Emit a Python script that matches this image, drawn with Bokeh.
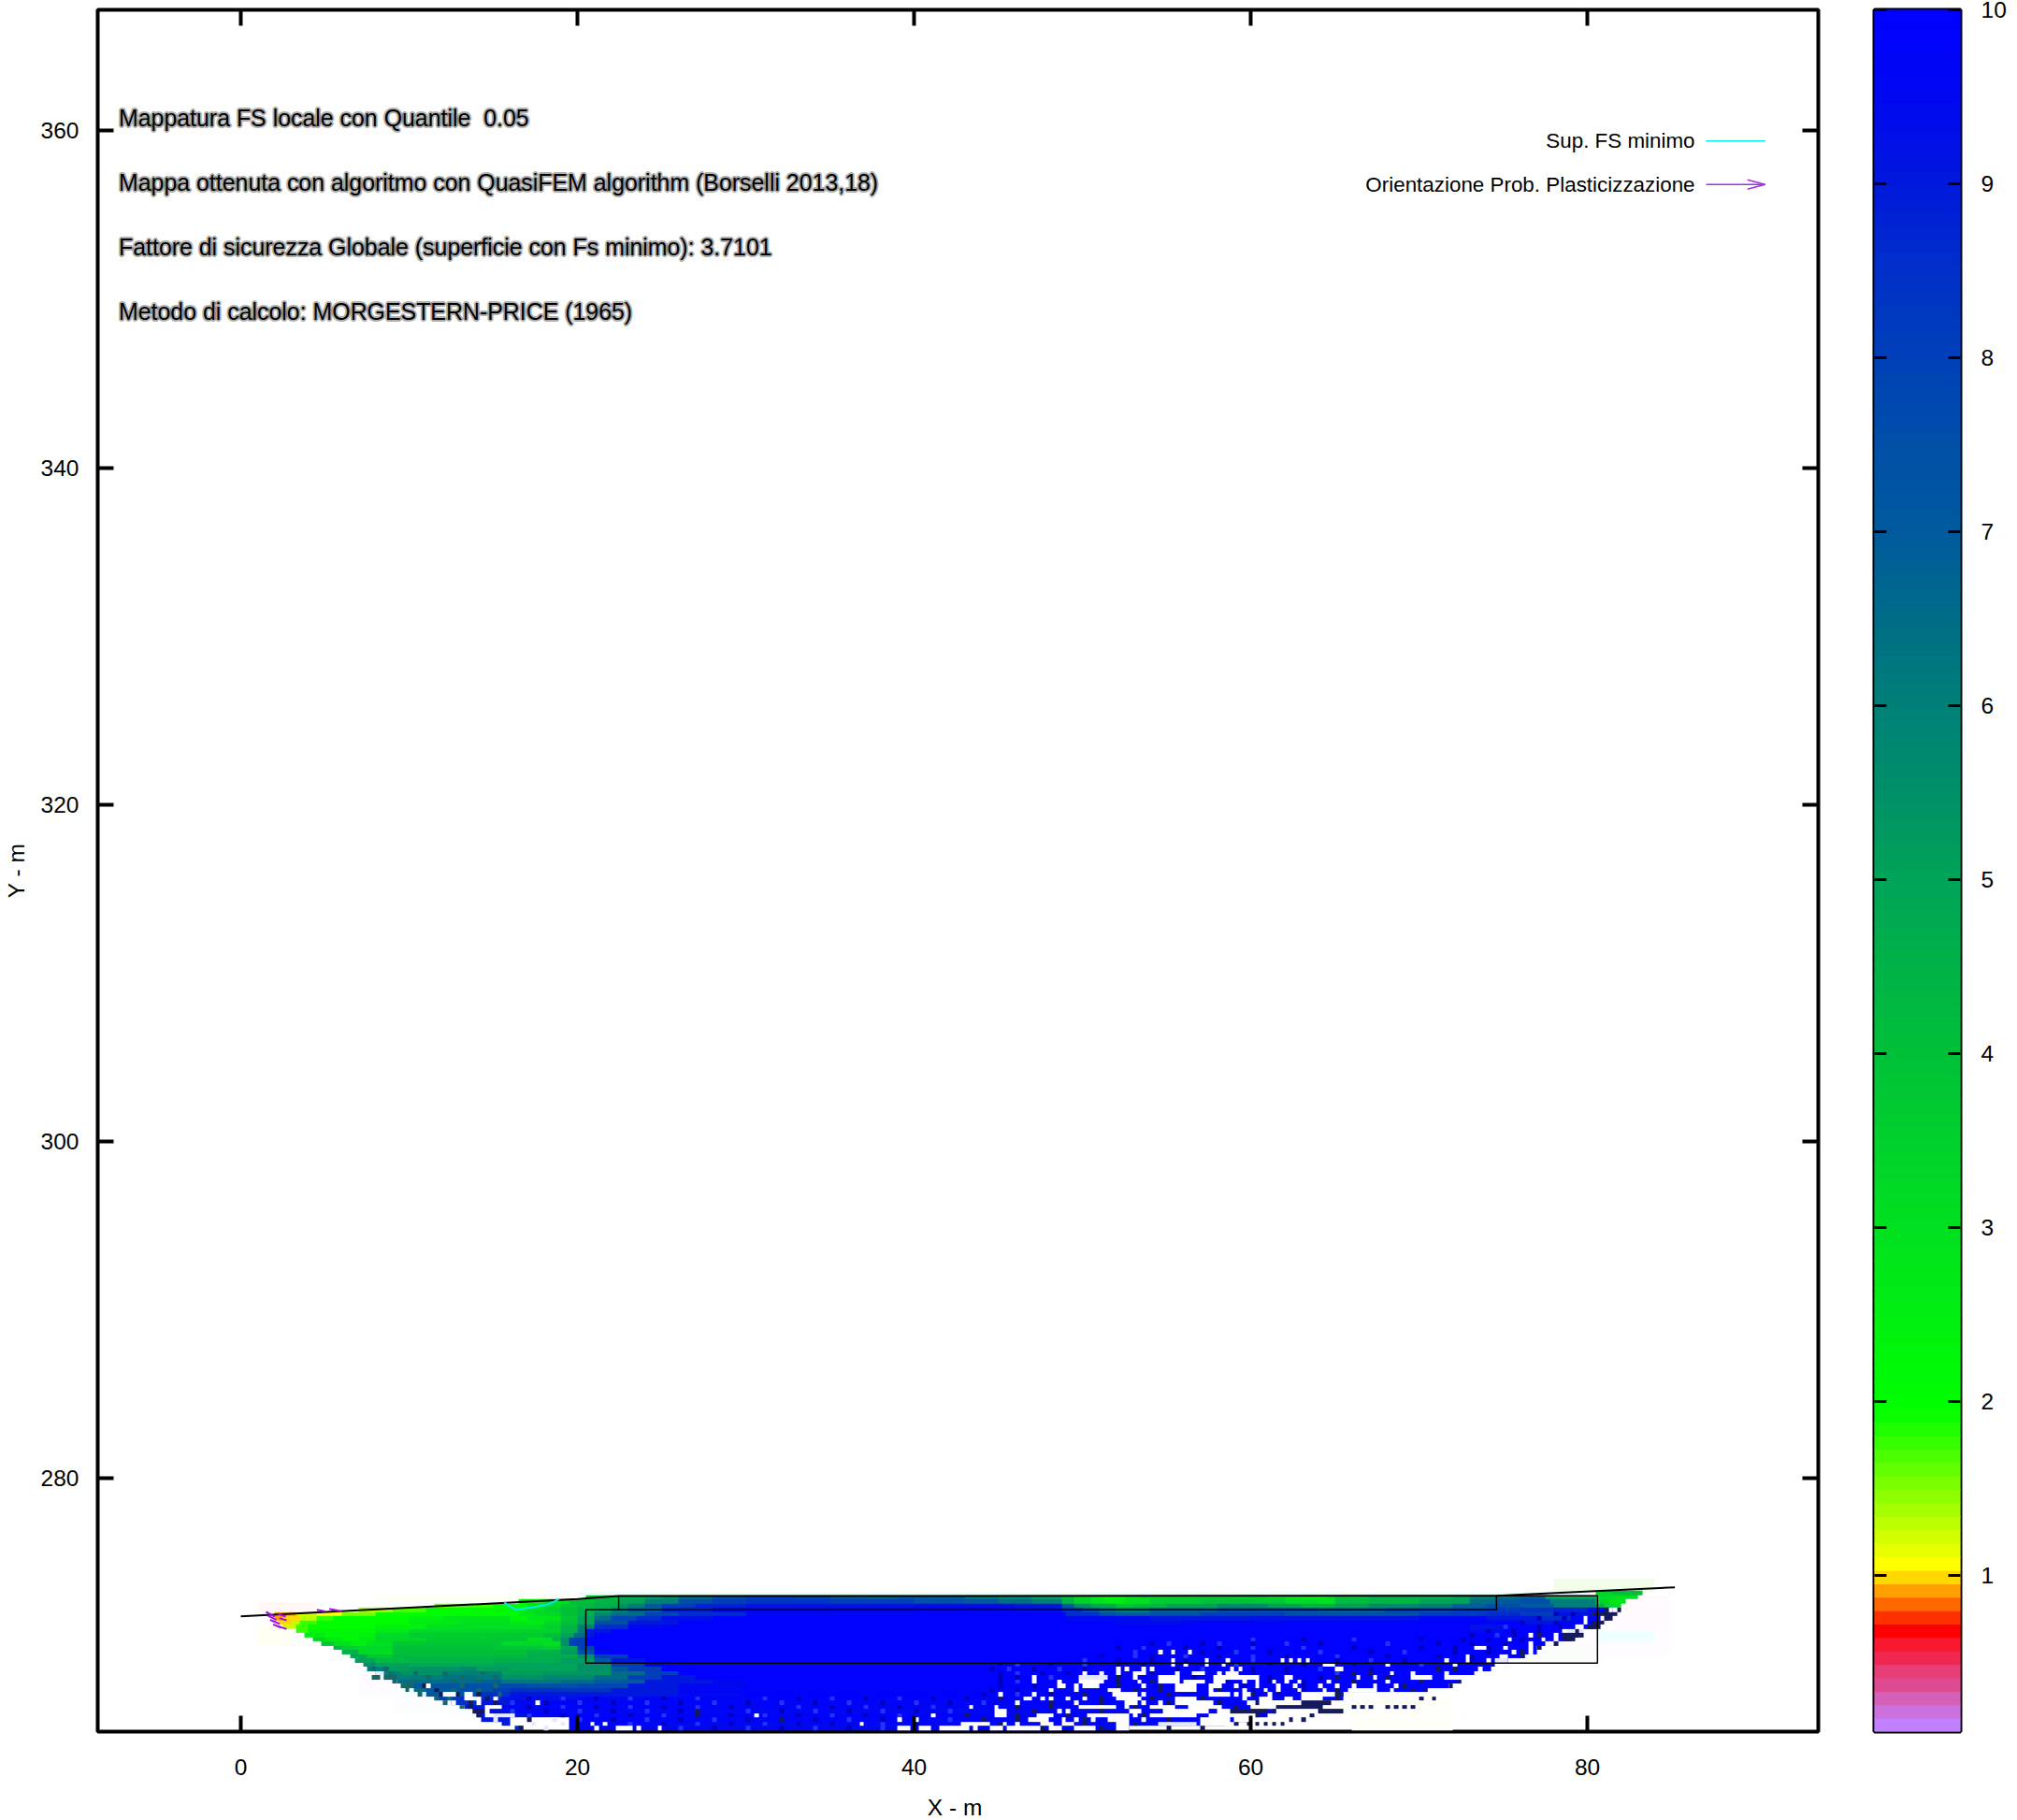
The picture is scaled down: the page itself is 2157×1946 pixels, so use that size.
import numpy as np
from bokeh.core.properties import value
from bokeh.embed import file_html
from bokeh.layouts import row
from bokeh.models import (CustomJSTickFormatter, FixedTicker, LinearAxis, LinearColorMapper, Range1d)
from bokeh.plotting import figure
from bokeh.resources import INLINE

FONT = "Liberation Sans"
X_TICKS = [0, 20, 40, 60, 80]
Y_TICKS = [280, 300, 320, 340, 360]
CB_TICKS = [1, 2, 3, 4, 5, 6, 7, 8, 9, 10]

NOTES = ["Mappatura FS locale con Quantile \u00a00.05",
         "Mappa ottenuta con algoritmo con QuasiFEM algorithm (Borselli 2013,18)",
         "Fattore di sicurezza Globale (superficie con Fs minimo): 3.7101",
         "Metodo di calcolo: MORGESTERN-PRICE (1965)"]
NOTES_Y = [360.76, 356.93, 353.1, 349.27]

# palette
STOP_V = [0.139, 0.216, 0.293, 0.371, 0.448, 0.525, 0.603, 0.68, 0.757, 0.835, 0.912, 0.989,
          1.066, 1.95, 3, 4, 5, 5.5, 6, 6.5, 7, 7.5, 8, 8.5, 9, 9.5, 10]
STOP_C = ["c080ff", "cc70dd", "d560b8", "de4a92", "e83e78", "f02850", "f81830", "ff0000", "ff3000",
          "ff6800", "ffa000", "ffd800", "ffff00", "00ff00", "00e020", "00c038", "00a458", "009068",
          "008078", "006c88", "005a9c", "0050a8", "0040b8", "0030c8", "0018dc", "0008f0", "0000ff"]

# FS read along rows of the grid: "x:FS" steps, n = no value
ROW_Y = [273.125, 272.875, 272.625, 272.375, 272.125, 271.875, 271.625, 271.375, 271.125, 270.875,
         270.625, 270.375, 270.125, 269.875, 269.625, 269.375, 269.125, 268.875, 268.625, 268.375,
         268.125, 267.875, 267.625, 267.375, 267.125, 266.875, 266.625, 266.375, 266.125, 265.875,
         265.625, 265.375, 265.125]
ROW_FS = [
 "80.5:3.4 81.5:4 83.2:n",
 "20.4:3.8 21:4 22.4:4.5 24:5 25:5.5 26:6.5 28:7.5 30:8 33:7.8 35:7 37:6.8 39:7.2 41:7 43:6.2 45:5.6 47:5 48.7:4 49.5:3.2 50.5:2.5 51.2:2 52.5:2.6 53.5:3.2 55:3.4 57:3.6 59:3.4 61:3 62:2.7 63:2.4 64.5:3 65:3.8 67:4.2 70:4.4 72:5 73:5.8 74.6:6.5 76:7 77.5:5 78:4.8 80.5:3.2 81.5:3 82.9:n",
 "16.5:2.5 18:3 19.5:4 21:4.4 22.4:5 24:6 26:7.5 28:8 30:8.3 35:8 40:7.5 43:7.2 45:6.5 47:6 48.7:4.5 49.5:3.5 50.5:3 51.2:2.6 52.5:3 54:3.6 57:4 60:3.8 62:3.2 64:3 65:4.2 67:4.4 70:5 73:6.5 74.6:7 76:7.5 77.8:6 80.5:3.4 81.2:2.8 82.3:n",
 "11.6:1.6 13:1.8 15:2 17:2.8 18:3.2 19:3.8 20:4.2 21:4.6 22.4:5.5 23:6 24:7 25:8 27:8.8 30:9.2 40:9.4 46:9 48.7:7 49.5:5.5 50.5:4.8 52:3.8 53:4.2 55:5 58:5.6 61:5 63:4.4 65:5 67:5.6 70:6 72:6.8 74:7.5 76:7 78:6 80.5:4.5 81:3.2 81.9:n",
 "7:1.4 9:1.7 11:2 13:2.1 15:2.2 17:3 18:3.5 19:4 20:4.6 21:5 22:6 23:7 25:8.8 28:9.5 40:9.7 46:9.4 48.7:8.4 50:7.4 51:6.5 52:6 54:6.8 58:7.5 60:7.6 64:7 68:7.8 72:8 74:8.2 76:8.4 78:8.8 80:9.5 81.4:n",
 "1.9:0.9 3.2:1.2 4.4:1.05 6:1.5 8:1.9 10:2 14:2.1 16.5:2.7 17.5:3.2 19:4 20:4.6 21:5.8 22:6.5 24:7.8 26:8.6 30:9.5 40:9.8 49:8.5 51:7.5 52:7 54:7.4 57:8 62:7.5 65:7.5 70:8.2 74:8.6 76:8 78:9.2 81.5:n",
 "1.9:0.9 2.4:1.0 3.4:1.3 4.5:1.8 5.5:2 10:2.4 12:2.8 16:2.2 17:2.8 19:3.8 20:5 21:6.5 22:7.8 23.5:8.6 25:9.3 28:10 49:9.4 54:9 60:9.2 70:9.6 74:9 77:8.6 79:9.6 81.3:n",
 "2.3:1 3:1.3 3.5:1.8 4.5:2 10:2.6 13:3 16:2.6 18:3.2 19:4 20:5 21:7.5 23:9 26:10 49:9.8 52:9.4 56:9.7 62:10 76:9.2 78:9.8 80.8:n",
 "2.6:1.2 3.2:1.8 4:2 8:2.4 11:3 16:3 18:3.5 19:4.5 20:6 21:8.5 23:9.5 25:10 73:9.2 75:9.8 80.5:n",
 "3.3:1.8 4:2.2 8:2.6 10:3.2 14:3.4 17:3.4 19:4.5 20:6 20.6:9 22:10 73:9.4 75:10 79.6:n",
 "3.8:2.6 5:2.2 7:2.4 8:3.2 10:3.6 16:3.6 18:4 19:5 19.8:6.5 20.5:9 21:10 79.6:n",
 "4.3:3.4 5:2.6 6:2.2 7:2.6 8:3.2 11:3.6 15:3.8 17:3 18.5:4.5 19:5.5 19.6:8 20.5:10 79:n",
 "4.8:3.8 5.5:3 6.5:2.5 7.5:3 9:3.8 14:3.8 15.5:3.2 18:3 19:5.5 19.5:8 20.5:10 78.1:n",
 "5.5:4.2 6:3.5 7:3.2 9:4 15:3.8 18:3.5 19:5 20:8 21:10 77:n",
 "6:4.5 7:3.2 8:3 9:4 15:4 17:4.5 19:5.2 20:7.5 21:9.5 22:10 77:n",
 "6.4:5 7.5:3.8 9:4.2 15:4.2 17:4.6 20:5.5 21:8 23:10 76.3:n",
 "6.8:5 8:4.2 10:4.4 15:4.6 19:5.2 21:7 22:9 24:10 75.2:n",
 "7.2:5.5 8:5 10:4.8 15:5 20:5.5 22:8 24:10 74.6:n",
 "7.6:6 8.5:5.2 10:5.4 13:5.6 14:5.2 16:5 20:5.5 22:7 23:8 25:10 74.2:n",
 "8:6 9.5:5.5 12:6 14.5:6 15.5:5.2 18:5.3 22:6.5 24:8 26:10 73.3:n",
 "8.6:6 10:6 12:6.3 14:6.2 15.5:5.5 18:5.8 21:6.5 23:8 25:9 27:10 71.5:n",
 "9.2:6.5 11:6.5 14:6.8 15.5:6.2 19:6.5 21:7 24:9 28:9.5 30:10 72.4:n",
 "9.8:7 11:7.2 13:7.5 15.5:7.7 17:7.5 20:7.8 23:9 26:9.5 30:10 71.8:n",
 "10.3:6.5 11:7 13:7.5 15:8 16:8.5 19:8.3 22:9 26:9.7 70.4:n",
 "11:7 12:7.5 14:8.5 16:9.2 17:9 20:9 26:9.5 30:10 65.4:n",
 "11.4:8 13:8.6 15.5:9.2 18:9.3 20:9.5 24:9.7 65.5:n",
 "12.6:8.5 14:9 16:9.5 18:9.7 61:n",
 "13.3:9 15:9.5 18:9.7 60:n",
 "13.7:9.3 16:9.6 61.5:n",
 "14:9.3 17:9.7 60.9:n",
 "14.2:9 16:n 19.6:9.7 60:n",
 "15.5:9 16:n 19.6:9.5 58.5:n",
 "16.3:8.7 16.8:n 19.6:9.5 52.75:n",
]

# single cells: w white, p pale, z navy, d deep blue, l light blue, t dark teal
CELL_CODES = "wpzdlt"
CELL_COLORS = ["#ffffff", "#e4e9ff", "#141a5a", "#0000b8", "#2434ff", "#14686a"]
CELL_Y = [272.125, 271.875, 271.625, 271.375, 271.125, 270.875, 270.625, 270.375, 270.125, 269.875, 269.625,
          269.375, 269.125, 268.875, 268.625, 268.375, 268.125, 267.875, 267.625, 267.375, 267.125,
          266.875, 266.625, 266.375, 266.125, 265.875, 265.625, 265.375, 265.125]
CELL_ROWS = [
 "z81 w81.25 z81.75",
 "z80.25-81 z81.25-81.5 d78 d79",
 "w79.75 w80.75 z81-81.25 d77 d78.5",
 "w79.75 z80.25-80.75 d76 d78",
 "w79.25-79.5 z80-80.5 d77 d78.25 l75",
 "w78.5 p78.75-79.5 z79.25 d74 d75.5 d77",
 "w76.5 w78 z77 z78.5-79.5 d73 l74.5 d75.5",
 "w75.25 w77.25 w78 z78.5-79 l60 d63 l66 d70 d72.5 d74 d76",
 "w76.5 w77.5-77.75 d54 l55 d57 l58 d60 l62 d64 l68 d71 d73 d75 z78",
 "w73.25-73.75 w75 w76.5 z77 d52 l53.5 d56 d58 l60 l63 d66 d70 d72 d74",
 "w54.5 w55.25 w56.25 w75.5 w76.5 z76 l53 d57 l59 d61 l64 d67 l69 d72 d74",
 "w72.75 w74.75-75 z76 d51 l53 d54 l56 d58 l60 d62 l65 d68 d71 d73",
 "w55.25 w57.25 w58.5 w61.75 w62.25 w62.75 w63.25 w71.5 w72.75 w74 l50 d52 d54 d56 l60 d65 l67 d69 d73 p74.5-75",
 "w55.25 w56 w57.25 w58.25 w64.25-64.75 w68 w72 d45 l46 d48 l50 d52 d53.5 l59 d61 d63 d66 l70",
 "w52 w52.5 w53.5 w54 w58.75 w59.25 w65-65.25 w73.5 d44.5 l45.5 d47 l48.5 d50 d55.5 l57 d60 d62 l64 d67 z71 z72 t7.75 t8.5",
 "w50 w51 w52 w53-53.5 w55.5 w56.5-57 w58 w58.5-59 w68.25 w69.5 w71.5 d45 l46 d47.5 d49 d54 d60 d62 l65 z66 z67 p8-8.25 t10.25 t12 t14.25 t8.75",
 "w47 p49.75-51.25 w53 w54.5-55.5 w57.75-58.5 w58.75-60.25 w62-62.25 w66.25 w67.25 w69.5-70.5 d45 d46 l48 z52 d56.5 d61 d64 z65 z68 t7.75-8 t8.5-9 t11 t13 t15",
 "w47 w48.5 w49.75-51 w53.25 w54.5-55.5 w56-57 w57.75-58.5 w59.5 w60.25 w61.25 w62 w62.75 w64.5 w68 d45 l46 z52 z54 d58.5 d61 d63 z66 z70 z72.25 t9 t10 t12.5 t14",
 "w48.5-48.75 w49.5 w50-50.75 w53.5 w55.5-56.5 w57.5-58 w59 w60.25 w61.5 w62.5 w64 w65 w66 w67.25 w68.5 d45 d47 z52 z54.5 d59.5 d63 z69 z71.75 t9.5-10 w11 z10.75 t13 t15",
 "w48 w49.5 w51.5-52 w55.5-56.5 w57.5 w59.5 w60.75 w61.5 w62.75 w64.25 w65.75-67.25 w68.25 d44.5 d46 z53 z54.5 z58 d60 d63 z65 z69.5 z70.25 t9.75 t10.5 z11.5 t12.5 t14",
 "w45 w47 w51.75-53 w53.5 w57.5-58.5 w59 w59.5-59.75 w61 w63-64.75 d44 l46 d48 z50 z55 z60 d61.5 z65 z65.25 t10.5 p10.75 z11.75 w12-12.5 z12.75 w13.25-13.5 z14 t15.25",
 "w46.5-46.75 w47.5 w48 w49 w50 w52-53.25 w55.5-56.5 w59.5 w60.5-61 w62-62.25 w63-64 l15 d17 l19 d21 l23 d25 l27 l31 d33 l35 d37 l39 d41 d43 z45 z51 z54 z57 z65 z70 z70.75 p13.5 t11.5 t12.25 w13.25-14 w15 z14.5",
 "w46 w49.5 w52.5-53 w53.5 w54.5 w55.5-57.5 w59.75-62.75 l16 d18 l20 d22 l24 d26 l28 d30 l32 d34 l36 d38 l40 d42 l44 z48 z51 z55 z58 z63-64.5 z60.25 w17.5 t12 w12.5 z13.5 w14 z15",
 "w43.25 w44.75 w49.75-51.75 w52.5 w54-55.25 w56.25-58 w60-61.5 l15 d17 l19 d21 l23 d25 l27 d29 l33 d35 l37 d39 l41 z46 z48 z53 z59 z61.5-64 z66 z66.5 z67 z68 z68.5 z69 z69.5 t13 z13.5 w14.5-15.25",
 "w44.75-45.25 w48.5 w49 w52.75-53.25 w54.75-57.25 w58-58.75 p14 l16 d18 l20 d22 l24 d26 z27 l30 d32 l34 d36 l38 d40 l42 z47 z51 z58.75-60.75 z61.25 z64-65.25 z13.75-14.25 w14.5",
 "w30.5 w41 w44.75-45.25 w47.25-48 w50.25-51.5 w51.75-52.5 w53 w54-55.25 w55.5-56.5 w57.5-60 l17 d19 l21 d23 l25 z27 d29 l31 d33 l35 d37 l39 z43 z46 z49 z53.5 z60.25 z63.5 p15-16 z14 w14.5-14.75",
 "w39 w40 w46.75-47.75 w48.75 w49.5 w50.5 w51.5-52.5 w53.5 w57-58.5 w59-60 z17 p18.5 l20 d22 l24 d26 l28 d30 z32 d34 l36 d38 l42 z44 z46 z50 z55 z62.25 z63 p15",
 "w21.5 w36.75 w42.75-44 w44.25 w45-45.25 w46 w47.5-48 w48.75-49.25 w52-52.5 p54.5-56.5 w57-58.5 p17.25 p19 w20.75 l23 d25 l27 d29 l31 d33 d35 l38 d40 z45 z50 z53 z59 z59.75 z60.25 z60.75 z61.25 z61.75",
 "w21 w22.25-23 w23.5 w24.75 w39-39.5 w40.25-40.75 w41.5-43 w43.5 w44.5-45 w45.5-47.25 w48-48.5 w49.5-50.5 w52-52.5 p18 z16.5 l26 d28 l30 d32 l34 d36 l38 z47.5 z51 z55 z57",
]

# pale wash around the mapped zone: x0, x1, y0, y1, colour
HAZE_X0 = [1.0, 1.0, 7.0, 9.0, 20.0, 66.0, 76.0, 78.0, 80.5, 81.5, 8.0, 76.0]
HAZE_X1 = [4.5, 3.0, 12.0, 14.0, 80.0, 72.0, 85.0, 84.0, 84.0, 85.0, 20.0, 80.5]
HAZE_Y0 = [271.9, 270.0, 267.0, 266.0, 273.0, 265.0, 269.5, 273.2, 270.2, 271.0, 272.7, 268.9]
HAZE_Y1 = [272.6, 271.2, 268.6, 267.2, 273.2, 267.0, 271.0, 274.0, 270.9, 273.0, 273.0, 270.0]
HAZE_C = ["#fff8f6", "#fffff4", "#fffcff", "#fbfdff", "#e6fff6", "#fffffa", "#fffcff", "#f2fdea", "#f0ffff",
          "#fffafd", "#fffff4", "#fbfdfb"]

SURFACE_X = [0.0, 20.0, 22.45, 74.6, 85.2]
SURFACE_Y = [271.78, 272.8, 272.98, 273.0, 273.5]
BOX_X = [22.45, 22.45, 74.6, 74.6]
BOX_Y = [273.0, 272.17, 272.17, 273.0]
BOX2_X = [74.6, 80.6, 80.6, 20.5, 20.5, 22.45]
BOX2_Y = [273.0, 273.0, 269.0, 269.0, 272.17, 272.17]
FSMIN_X = [15.65, 16.3, 17.3, 18.3, 18.9]
FSMIN_Y = [272.6, 272.17, 272.3, 272.5, 272.8]
ARROW_X0 = [1.5, 1.61, 1.74, 2.2, 2.3, 1.92, 2.2, 4.52, 5.26]
ARROW_Y0 = [272.04, 271.81, 271.57, 271.94, 271.67, 271.3, 271.2, 272.17, 272.22]
ARROW_X1 = [2.02, 2.11, 2.3, 2.67, 2.72, 2.39, 2.72, 5.02, 6.0]
ARROW_Y1 = [271.76, 271.57, 271.33, 271.76, 271.54, 271.11, 271.02, 272.07, 272.07]

LEGEND_LABELS = ["Sup. FS minimo", "Orientazione Prob. Plasticizzazione"]
LEGEND_Y = [359.4, 356.82]
LEGEND_TEXT_X = 86.39
LEGEND_X0 = 87.06
LEGEND_X1 = 90.56

# ---- build
CLEAR = "#ffffff00"

def hex2rgb(c):
    return [int(c[i:i + 2], 16) for i in (0, 2, 4)]

N = 128
LOW, HIGH = 0.1, 10.0
edges = np.linspace(LOW, HIGH, N + 1)
rgb = np.array([hex2rgb(c) for c in STOP_C], float)
centres = (edges[:-1] + edges[1:]) / 2
palette = ["#%02x%02x%02x" % tuple(int(round(np.interp(v, STOP_V, rgb[:, k]))) for k in range(3)) for v in centres]
mapper = LinearColorMapper(palette=palette, low=LOW, high=HIGH, nan_color=CLEAR)

Y0, DY, DX, NC, NR = 265.0, 0.25, 0.25, 340, 37
fs = np.full((NR, NC), np.nan)
for y, txt in zip(ROW_Y, ROW_FS):
    r = int((y - Y0) / DY)
    toks = [t.split(":") for t in txt.split()]
    for (a, v), (b, _) in zip(toks, toks[1:]):
        ca, cb_ = int(round(float(a) / DX)), int(round(float(b) / DX))
        fs[r, ca:cb_] = np.nan if v == "n" else float(v)

cells = np.full((NR, NC), np.nan)
for y, txt in zip(CELL_Y, CELL_ROWS):
    r = int((y - Y0) / DY)
    for t in txt.split():
        k = CELL_CODES.index(t[0]) + 0.5
        parts = t[1:].split("-")
        a = float(parts[0])
        b = float(parts[-1])
        cells[r, int(round(a / DX)):int(round(b / DX)) + 1] = k
cell_mapper = LinearColorMapper(palette=CELL_COLORS, low=0, high=len(CELL_COLORS), nan_color=CLEAR)

TS = "24.5px"
XL, XR = -8.5, 93.72
YB, YT = 264.93, 367.19
p = figure(width=None, height=None, frame_width=1840, frame_height=1841, output_backend="svg", toolbar_location=None,
           x_range=Range1d(XL, XR), y_range=Range1d(YB, YT), min_border_left=96, min_border_right=5,
           min_border_top=10, min_border_bottom=92, background_fill_color="white", border_fill_color="white")
p.grid.visible = False
p.outline_line_color = "black"
p.outline_line_width = 4

def style(ax, ticks):
    ax.ticker = FixedTicker(ticks=ticks)
    ax.major_tick_in = 17
    ax.major_tick_out = 0
    ax.minor_tick_line_color = None
    ax.major_tick_line_width = 4
    ax.major_tick_line_color = "black"
    ax.axis_line_color = None
    ax.major_label_text_font = FONT
    ax.major_label_text_font_size = TS
    ax.major_label_text_color = "black"
    ax.axis_label_text_font = FONT
    ax.axis_label_text_font_size = TS
    ax.axis_label_text_font_style = "normal"
    ax.axis_label_text_color = "black"

style(p.xaxis[0], X_TICKS)
style(p.yaxis[0], Y_TICKS)
p.xaxis[0].axis_label = "X  - m"
p.yaxis[0].axis_label = "Y - m"
p.xaxis[0].major_label_standoff = 29
p.xaxis[0].axis_label_standoff = 18
p.yaxis[0].major_label_standoff = 20
p.yaxis[0].axis_label_standoff = 10
blank = "return ''"
top = LinearAxis(formatter=CustomJSTickFormatter(code=blank))
style(top, X_TICKS)
right = LinearAxis(formatter=CustomJSTickFormatter(code=blank))
style(right, Y_TICKS)
p.add_layout(top, "above")
p.add_layout(right, "right")

p.quad(left=HAZE_X0, right=HAZE_X1, bottom=HAZE_Y0, top=HAZE_Y1, fill_color=HAZE_C, line_color=None)
p.image(image=[fs], x=0, y=Y0, dw=NC * DX, dh=NR * DY, color_mapper=mapper)
p.image(image=[cells], x=0, y=Y0, dw=NC * DX, dh=NR * DY, color_mapper=cell_mapper)
p.line(SURFACE_X, SURFACE_Y, line_color="black", line_width=2)
p.line(BOX_X, BOX_Y, line_color="black", line_width=1.5)
p.line(BOX2_X, BOX2_Y, line_color="black", line_width=1.5)
p.line(FSMIN_X, FSMIN_Y, line_color="#00e8f0", line_width=2)
p.segment(ARROW_X0, ARROW_Y0, ARROW_X1, ARROW_Y1, line_color="#a010e0", line_width=2)

p.text(x=[-7.25] * len(NOTES), y=NOTES_Y, text=NOTES, text_font=value(FONT), text_font_size="24.9px",
       text_baseline="middle", text_align="left", text_color="black", text_outline_color="#00000050")
p.text(x=[LEGEND_TEXT_X] * 2, y=LEGEND_Y, text=LEGEND_LABELS, text_font=value(FONT), text_font_size="22.4px",
       text_baseline="middle", text_align="right", text_color="black")
p.segment([LEGEND_X0], [LEGEND_Y[0]], [LEGEND_X1], [LEGEND_Y[0]], line_color="#00f0f0", line_width=1.5)
p.multi_line([[LEGEND_X0, LEGEND_X1], [LEGEND_X1 - 1.05, LEGEND_X1, LEGEND_X1 - 1.05]],
             [[LEGEND_Y[1], LEGEND_Y[1]], [LEGEND_Y[1] + 0.28, LEGEND_Y[1], LEGEND_Y[1] - 0.28]],
             line_color="#a030e0", line_width=1.5)

cb = figure(width=None, height=None, frame_width=92, frame_height=1841, output_backend="svg", toolbar_location=None,
            x_range=Range1d(0, 1), y_range=Range1d(LOW, HIGH), y_axis_location="right", x_axis_location=None,
            min_border_left=55, min_border_right=44, min_border_top=10, min_border_bottom=92,
            border_fill_color="white")
cb.grid.visible = False
cb.outline_line_color = "black"
cb.outline_line_width = 4
cb.quad(left=0, right=1, bottom=edges[:-1], top=edges[1:], fill_color=palette, line_color=palette, line_width=1.2)
style(cb.yaxis[0], CB_TICKS)
cb.yaxis[0].major_tick_in = 13
cb.yaxis[0].major_tick_line_width = 3
cb.yaxis[0].major_label_standoff = 22
cbl = LinearAxis(formatter=CustomJSTickFormatter(code=blank))
style(cbl, CB_TICKS)
cbl.major_tick_in = 13
cbl.major_tick_line_width = 3
cb.add_layout(cbl, "left")

layout = row(p, cb)
open("out.html", "w").write(file_html(layout, INLINE))
